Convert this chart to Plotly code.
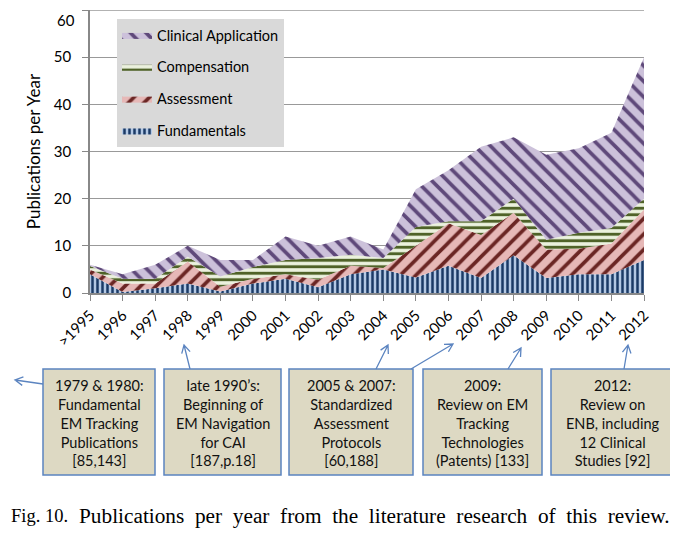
import math
import plotly.graph_objects as go

categories = [">1995", "1996", "1997", "1998", "1999", "2000", "2001", "2002", "2003",
              "2004", "2005", "2006", "2007", "2008", "2009", "2010", "2011", "2012"]
fundamentals = [4.0, 0.2, 1.0, 2.0, 0.3, 2.0, 3.0, 1.2, 4.0, 5.0, 3.3, 5.8, 3.2, 8.0, 3.2, 4.0, 4.0, 7.0]
assessment = [1.0, 1.8, 1.0, 4.7, 1.0, 1.0, 1.0, 1.6, 1.8, 0.3, 6.7, 9.0, 9.1, 9.0, 6.0, 5.4, 6.5, 10.7]
compensation = [0.7, 1.0, 1.0, 1.0, 2.2, 2.5, 3.0, 4.6, 2.3, 2.1, 4.0, 0.4, 2.9, 3.0, 2.1, 3.4, 3.3, 2.3]
clinical = [0.3, 1.0, 3.0, 2.3, 3.5, 1.5, 5.0, 2.6, 3.9, 1.8, 8.0, 10.8, 15.8, 13.0, 18.0, 17.9, 20.2, 30.0]

y_ticks = [0, 10, 20, 30, 40, 50, 60]
y_ticklabels = ["0", "10", "20", "30", "40", "50", "60"]

notes = [
    "1979 &amp; 1980:<br>Fundamental<br>EM Tracking<br>Publications<br>[85,143]",
    "late 1990\u2019s:<br>Beginning of<br>EM Navigation<br>for CAI<br>[187,p.18]",
    "2005 &amp; 2007:<br>Standardized<br>Assessment<br>Protocols<br>[60,188]",
    "2009:<br>Review on EM<br>Tracking<br>Technologies<br>(Patents) [133]",
    "2012:<br>Review on<br>ENB, including<br>12 Clinical<br>Studies [92]",
]
caption_label = "Fig. 10."
caption_text = "Publications per year from the literature research of this review."

FONT = "Lato, Carlito, Calibri, sans-serif"
SERIF = "Liberation Serif, Times New Roman, serif"
OFF = 8  # page body margin
W, H = 678 - OFF, 536 - OFF
# plot area in page pixels: x 90..644, y 10..293
PX0, PX1, PY0, PY1 = 90, 644, 10, 293
ML, MR, MT, MB = PX0 - OFF, W - (PX1 - OFF), PY0 - OFF, H - (PY1 - OFF)
PW = PX1 - PX0
PH = PY1 - PY0


def px(x):
    return (x - PX0) / PW


def py(y):
    return (PY1 - y) / PH


xs = list(range(len(categories)))
series = [
    ("Fundamentals", fundamentals, dict(shape="|", fgcolor="#1b3a66", bgcolor="#b3c8e4", size=5, solidity=0.5), "#b3c8e4", 4),
    ("Assessment", assessment, dict(shape="/", fgcolor="#6b2624", bgcolor="#e6b8b7", size=11, solidity=0.33), "#e6b8b7", 3),
    ("Compensation", compensation, dict(shape="-", fgcolor="#4f6228", bgcolor="#ebf1de", size=6.5, solidity=0.45), "#ebf1de", 2),
    ("Clinical Application", clinical, dict(shape="\\", fgcolor="#5f497a", bgcolor="#ccc1da", size=11, solidity=0.33), "#ccc1da", 1),
]

fig = go.Figure()
for name, vals, pat, bg, rank in series:
    fig.add_trace(go.Scatter(
        x=xs, y=vals, name=name, mode="lines", stackgroup="one",
        line=dict(width=0, color=pat["fgcolor"]),
        fillcolor=bg, fillpattern=dict(fillmode="replace", **pat),
        legendgroup=name, legendrank=rank, hoverinfo="skip",
    ))

shapes = []
annotations = []

# top gridline (value 60)
shapes.append(dict(type="line", xref="paper", yref="y", x0=0, x1=1, y0=y_ticks[-1], y1=y_ticks[-1],
                   line=dict(color="#999", width=1.3), layer="below"))
# top tick label: placed as annotation so it stays inside the page
annotations.append(dict(xref="paper", yref="y", x=0, y=y_ticks[-1], xanchor="right", yanchor="top",
                        xshift=-13, yshift=1.5, showarrow=False, text=y_ticklabels[-1],
                        font=dict(family=FONT, size=15, color="#000")))

boxes = [(43, 155), (164, 281), (289, 413), (423, 542), (551, 674)]
box_top, box_bot = 369, 475
for (x0, x1), txt in zip(boxes, notes):
    shapes.append(dict(type="rect", xref="paper", yref="paper",
                       x0=px(x0), x1=px(x1), y0=py(box_bot), y1=py(box_top),
                       fillcolor="#ddd9c3", line=dict(color="#5b84c0", width=1.5), layer="above"))
    annotations.append(dict(xref="paper", yref="paper", x=px((x0 + x1) / 2), y=py(422.5),
                            xanchor="center", yanchor="middle", showarrow=False, align="center",
                            text=txt, font=dict(family=FONT, size=14.5, color="#111")))

arrows = [((43, 384), (15, 380)), ((190, 369), (184, 345)), ((376, 369), (388, 345)),
          ((411, 369), (453, 344)), ((508, 369), (521, 348)), ((624, 369), (628, 345))]
ACOL = "#5b84c0"
for (tx, ty), (hx, hy) in arrows:
    ang = math.atan2(ty - hy, tx - hx)
    L = 9
    a1 = (hx + L * math.cos(ang + 0.5), hy + L * math.sin(ang + 0.5))
    a2 = (hx + L * math.cos(ang - 0.5), hy + L * math.sin(ang - 0.5))
    path = (f"M{px(tx)},{py(ty)} L{px(hx)},{py(hy)} "
            f"M{px(a1[0])},{py(a1[1])} L{px(hx)},{py(hy)} L{px(a2[0])},{py(a2[1])}")
    shapes.append(dict(type="path", xref="paper", yref="paper", path=path,
                       line=dict(color=ACOL, width=1.3)))

NB = "\u00a0"
annotations.append(dict(xref="paper", yref="paper", x=px(9), y=py(516), xanchor="left", yanchor="middle",
                        showarrow=False, text=caption_label,
                        font=dict(family=SERIF, size=18.5, color="#000")))
annotations.append(dict(xref="paper", yref="paper", x=px(77), y=py(516), xanchor="left", yanchor="middle",
                        showarrow=False, text=caption_text.replace(" ", " " + NB),
                        font=dict(family=SERIF, size=21.3, color="#000")))

fig.update_layout(
    width=W, height=H, margin=dict(l=ML, r=MR, t=MT, b=MB, autoexpand=False),
    paper_bgcolor="white", plot_bgcolor="white",
    font=dict(family=FONT, size=15, color="#000"),
    showlegend=True,
    legend=dict(x=px(117), y=py(19), xanchor="left", yanchor="top", bgcolor="#d9d9d9",
                traceorder="grouped", tracegroupgap=10, itemwidth=30,
                font=dict(family=FONT, size=14.5, color="#000"), borderwidth=0),
    xaxis=dict(range=[0, len(categories) - 1], tickmode="array", tickvals=xs, ticktext=categories,
               tickangle=-45, ticks="outside", ticklen=6, tickcolor="#888", showline=True,
               linecolor="#888", linewidth=1.5, showgrid=False, zeroline=False,
               tickfont=dict(family=FONT, size=15), ticklabeloverflow="allow"),
    yaxis=dict(range=[0, 60], tickmode="array", tickvals=y_ticks,
               ticktext=y_ticklabels[:-1] + [""], ticks="outside", ticklen=6,
               tickcolor="#888", showline=True, linecolor="#888", linewidth=1.5, showgrid=True,
               gridcolor="#999", gridwidth=1.3, zeroline=False, ticklabelstandoff=8,
               tickfont=dict(family=FONT, size=15),
               title=dict(text="Publications per Year", font=dict(family=FONT, size=17), standoff=9)),
    shapes=shapes, annotations=annotations,
)

fig.write_html("out.html")
